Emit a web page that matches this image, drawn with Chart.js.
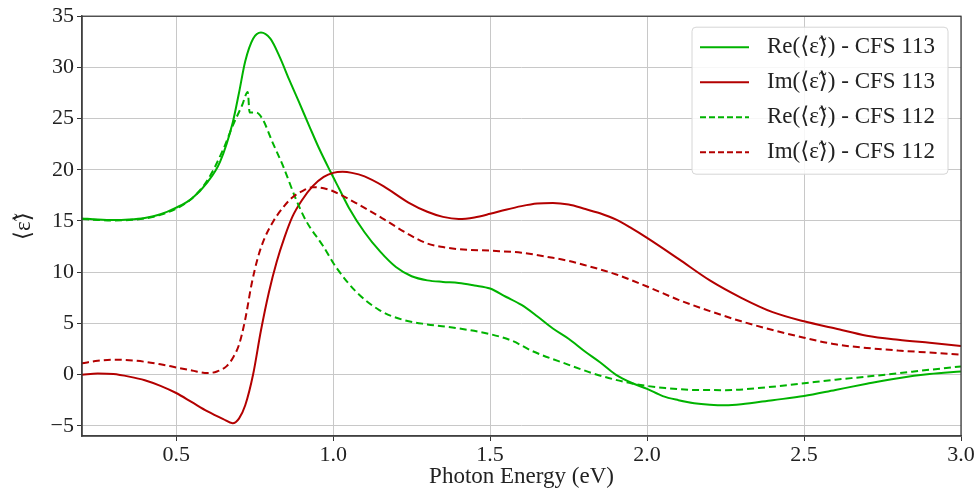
<!DOCTYPE html>
<html>
<head>
<meta charset="utf-8">
<script src="https://cdn.jsdelivr.net/npm/chart.js@4.4.1/dist/chart.umd.min.js"></script>
<style>
    html, body { margin: 0; padding: 0; background: #fff; }
    #wrap { width: 977px; height: 496px; }
</style>
</head>
<body>
<div id="wrap"><canvas id="epsChart" width="977" height="496"></canvas></div>
<script>
// 읽어낸 데이터 (photon energy in eV)
const re113E = [0.2, 0.25, 0.3, 0.35, 0.4, 0.45, 0.5, 0.55, 0.6, 0.64, 0.68, 0.7, 0.72, 0.745, 0.77, 0.8, 0.83, 0.86, 0.89, 0.925, 0.955, 0.99, 1.02, 1.05, 1.1, 1.15, 1.2, 1.25, 1.3, 1.35, 1.4, 1.45, 1.5, 1.55, 1.6, 1.65, 1.7, 1.75, 1.8, 1.85, 1.9, 1.95, 2.0, 2.05, 2.1, 2.15, 2.2, 2.25, 2.3, 2.4, 2.5, 2.6, 2.7, 2.8, 2.9, 3.0];
const re113 = [15.25, 15.15, 15.1, 15.15, 15.3, 15.65, 16.3, 17.2, 18.8, 20.8, 24.6, 27.5, 30.6, 32.8, 33.4, 32.8, 31.0, 28.8, 26.7, 24.2, 22.1, 19.9, 18.1, 16.3, 13.9, 12.0, 10.5, 9.6, 9.2, 9.05, 8.95, 8.7, 8.4, 7.6, 6.8, 5.7, 4.5, 3.5, 2.3, 1.2, 0.0, -0.8, -1.4, -2.1, -2.5, -2.8, -2.95, -3.0, -2.9, -2.5, -2.1, -1.5, -0.9, -0.35, 0.05, 0.3];

const im113E = [0.2, 0.25, 0.3, 0.35, 0.4, 0.45, 0.5, 0.55, 0.6, 0.65, 0.68, 0.7, 0.72, 0.745, 0.77, 0.795, 0.82, 0.845, 0.87, 0.9, 0.935, 0.97, 1.0, 1.03, 1.06, 1.1, 1.16, 1.24, 1.3, 1.35, 1.4, 1.45, 1.5, 1.55, 1.6, 1.65, 1.7, 1.75, 1.8, 1.85, 1.9, 1.95, 2.0, 2.1, 2.2, 2.3, 2.4, 2.5, 2.6, 2.7, 2.8, 2.9, 3.0];
const im113 = [-0.03, 0.1, 0.05, -0.2, -0.55, -1.1, -1.8, -2.7, -3.6, -4.35, -4.75, -4.3, -3.0, 0.0, 4.3, 8.0, 11.0, 13.4, 15.4, 17.0, 18.4, 19.3, 19.7, 19.8, 19.7, 19.35, 18.4, 16.8, 15.9, 15.4, 15.2, 15.35, 15.7, 16.1, 16.45, 16.7, 16.75, 16.6, 16.2, 15.75, 15.15, 14.3, 13.35, 11.3, 9.2, 7.5, 6.1, 5.2, 4.5, 3.8, 3.4, 3.1, 2.8];

const re112E = [0.2, 0.25, 0.3, 0.35, 0.4, 0.45, 0.5, 0.55, 0.6, 0.65, 0.68, 0.71, 0.728, 0.734, 0.755, 0.776, 0.808, 0.84, 0.882, 0.914, 0.967, 1.009, 1.073, 1.147, 1.221, 1.3, 1.39, 1.5, 1.57, 1.634, 1.74, 1.846, 1.952, 2.058, 2.164, 2.25, 2.376, 2.492, 2.6, 2.7, 2.85, 3.0];
const re112 = [15.2, 15.1, 15.05, 15.1, 15.25, 15.6, 16.2, 17.2, 19.0, 22.0, 24.3, 26.3, 27.6, 25.6, 25.6, 24.9, 22.6, 20.4, 17.1, 15.0, 12.6, 10.5, 8.1, 6.3, 5.36, 4.9, 4.55, 3.95, 3.3, 2.3, 1.07, -0.06, -0.87, -1.32, -1.51, -1.52, -1.26, -0.87, -0.5, -0.2, 0.3, 0.8];

const im112E = [0.2, 0.25, 0.3, 0.35, 0.4, 0.45, 0.5, 0.55, 0.6, 0.63, 0.66, 0.68, 0.7, 0.72, 0.74, 0.76, 0.78, 0.81, 0.84, 0.87, 0.9, 0.935, 0.97, 1.0, 1.07, 1.16, 1.24, 1.3, 1.35, 1.4, 1.5, 1.6, 1.7, 1.75, 1.8, 1.9, 2.0, 2.1, 2.2, 2.3, 2.4, 2.5, 2.6, 2.7, 2.8, 2.9, 3.0];
const im112 = [1.1, 1.35, 1.45, 1.4, 1.25, 1.0, 0.7, 0.4, 0.15, 0.3, 0.8, 1.6, 2.9, 5.4, 8.8, 11.4, 13.2, 15.0, 16.3, 17.3, 17.9, 18.3, 18.2, 17.9, 16.8, 15.2, 13.7, 12.8, 12.45, 12.25, 12.1, 11.9, 11.4, 11.1, 10.7, 9.8, 8.6, 7.3, 6.2, 5.2, 4.35, 3.6, 2.95, 2.6, 2.35, 2.15, 1.95];

const seriesLabels = ['Re(⟨ε̃⟩) - CFS 113', 'Im(⟨ε̃⟩) - CFS 113', 'Re(⟨ε̃⟩) - CFS 112', 'Im(⟨ε̃⟩) - CFS 112'];
const xTicks = [0.5, 1.0, 1.5, 2.0, 2.5, 3.0];
const yTicks = [-5, 0, 5, 10, 15, 20, 25, 30, 35];

const GREEN = '#00b300';
const RED = '#b30000';
const FONT = "'Liberation Serif', 'DejaVu Serif', serif";

function toPoints(xs, ys) {
    return xs.map((x, i) => ({ x: x, y: ys[i] }));
}

function makeSet(label, xs, ys, color, dashed, order) {
    return {
        label: label,
        data: toPoints(xs, ys),
        borderColor: color,
        borderWidth: 2,
        borderDash: dashed ? [7, 4] : [],
        pointRadius: 0,
        fill: false,
        cubicInterpolationMode: 'monotone',
        order: order
    };
}

// 테두리 + 범례 그리기
const framePlugin = {
    id: 'frame',
    afterDraw(chart) {
        const ctx = chart.ctx;
        const a = chart.chartArea;
        ctx.save();
        ctx.strokeStyle = '#333';
        ctx.lineWidth = 1.2;
        ctx.strokeRect(a.left, a.top, a.right - a.left, a.bottom - a.top);

        // 범례 박스
        const boxW = 256, boxH = 147;
        const bx = a.right - 13 - boxW;
        const by = a.top + 11;
        ctx.beginPath();
        ctx.roundRect(bx, by, boxW, boxH, 4);
        ctx.fillStyle = 'rgba(255,255,255,0.85)';
        ctx.fill();
        ctx.strokeStyle = '#d6d6d6';
        ctx.lineWidth = 1;
        ctx.stroke();

        ctx.font = '23px ' + FONT;
        ctx.textBaseline = 'middle';
        ctx.fillStyle = '#222';
        chart.data.datasets.forEach((ds, i) => {
            const yy = by + 20 + i * 35;
            ctx.beginPath();
            ctx.setLineDash(ds.borderDash.length ? [6, 3] : []);
            ctx.strokeStyle = ds.borderColor;
            ctx.lineWidth = 2;
            ctx.moveTo(bx + 8, yy);
            ctx.lineTo(bx + 57, yy);
            ctx.stroke();
            ctx.setLineDash([]);
            ctx.fillText(ds.label, bx + 75, yy);
        });
        ctx.restore();
    }
};

const ctx = document.getElementById('epsChart').getContext('2d');
const epsChart = new Chart(ctx, {
    type: 'line',
    data: {
        datasets: [
            makeSet(seriesLabels[0], re113E, re113, GREEN, false, 4),
            makeSet(seriesLabels[1], im113E, im113, RED, false, 3),
            makeSet(seriesLabels[2], re112E, re112, GREEN, true, 2),
            makeSet(seriesLabels[3], im112E, im112, RED, true, 1)
        ]
    },
    options: {
        responsive: false,
        animation: false,
        layout: { padding: { top: 12, right: 16, left: 0, bottom: 0 } },
        plugins: {
            legend: { display: false },
            tooltip: { enabled: false }
        },
        scales: {
            x: {
                type: 'linear',
                min: 0.2,
                max: 3.0,
                afterBuildTicks: (scale) => { scale.ticks = xTicks.map(v => ({ value: v })); },
                afterFit: (scale) => { scale.height = 60; },
                ticks: {
                    color: '#222',
                    font: { family: FONT, size: 22 },
                    padding: 1,
                    maxRotation: 0,
                    callback: (v) => Number(v).toFixed(1)
                },
                grid: { color: '#c8c8c8', lineWidth: 1, tickColor: '#333', tickLength: 5 },
                border: { color: '#555', width: 1.5 },
                title: {
                    display: true,
                    text: 'Photon Energy (eV)',
                    color: '#222',
                    font: { family: FONT, size: 23 },
                    padding: { top: 0, bottom: 5 }
                }
            },
            y: {
                type: 'linear',
                min: -6,
                max: 35,
                afterBuildTicks: (scale) => { scale.ticks = yTicks.map(v => ({ value: v })); },
                afterFit: (scale) => { scale.width = 82; },
                ticks: {
                    color: '#222',
                    font: { family: FONT, size: 22 },
                    padding: 3,
                    callback: (v) => v < 0 ? '\u2212' + Math.abs(v) : String(v)
                },
                grid: { color: '#c8c8c8', lineWidth: 1, tickColor: '#333', tickLength: 5 },
                border: { color: '#555', width: 1.5 },
                title: {
                    display: true,
                    text: '⟨ε̃⟩',
                    color: '#222',
                    font: { family: FONT, size: 23 },
                    padding: { top: 10, bottom: 6 }
                }
            }
        }
    },
    plugins: [framePlugin]
});
</script>
</body>
</html>
